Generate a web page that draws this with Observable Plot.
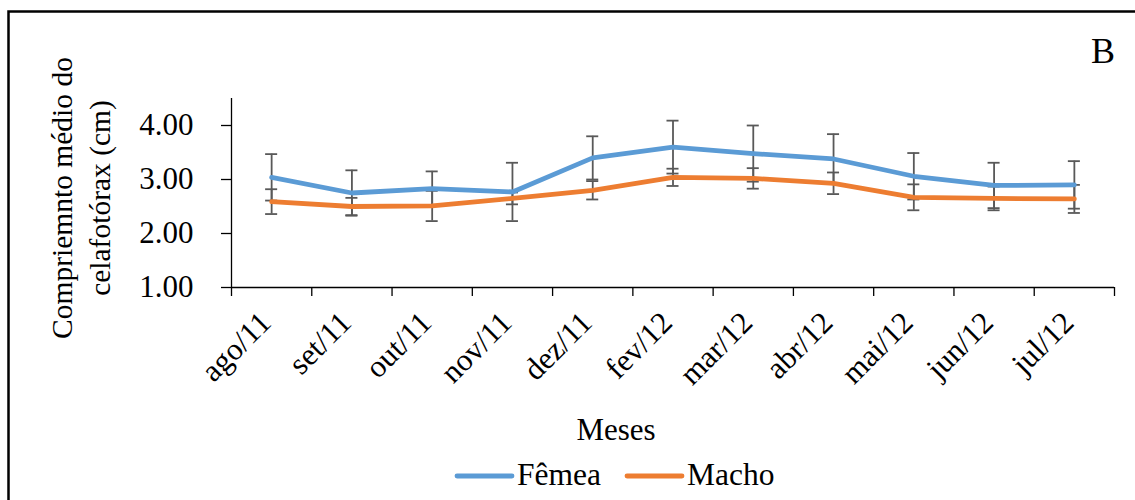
<!DOCTYPE html>
<html>
<head>
<meta charset="utf-8">
<script src="https://cdn.jsdelivr.net/npm/d3@7"></script>
<script src="https://cdn.jsdelivr.net/npm/@observablehq/plot@0.6"></script>
<style>
  html, body { margin: 0; padding: 0; background: #fff; }
  #chart svg { display: block; }
</style>
</head>
<body>
<div id="chart"></div>
<script>
const meses = ["ago/11","set/11","out/11","nov/11","dez/11","fev/12","mar/12","abr/12","mai/12","jun/12","jul/12"];
const series = ["Fêmea", "Macho"];
const colors = ["#5B9BD5", "#ED7D31"];
const femea    = [3.04, 2.75, 2.83, 2.77, 3.40, 3.60, 3.48, 3.38, 3.06, 2.89, 2.90];
const femeaErr = [0.43, 0.42, 0.32, 0.54, 0.40, 0.49, 0.52, 0.46, 0.43, 0.42, 0.44];
const macho    = [2.59, 2.50, 2.51, 2.65, 2.80, 3.04, 3.02, 2.93, 2.67, 2.65, 2.64];
const machoErr = [0.23, 0.16, 0.28, 0.11, 0.17, 0.16, 0.19, 0.20, 0.24, 0.22, 0.26];
const yTicks = [1, 2, 3, 4];
const yTitle = ["Compriemnto médio do", "celafotórax (cm)"];
const xTitle = "Meses";
const panelLabel = "B";

const FONT = "Liberation Serif, Times New Roman, serif";

const rows = [];
meses.forEach((m, i) => {
  rows.push({mes: m, x: i + 0.5, v: femea[i], e: femeaErr[i], serie: series[0]});
});
meses.forEach((m, i) => {
  rows.push({mes: m, x: i + 0.5, v: macho[i], e: machoErr[i], serie: series[1]});
});

const errColor = "#595959";
const cap = 0.075;

const chart = Plot.plot({
  width: 1135,
  height: 500,
  marginLeft: 231,
  marginRight: 21,
  marginTop: 98,
  marginBottom: 213,
  style: {fontFamily: FONT, fontSize: "30px", color: "#000", background: "#fff"},
  x: {type: "linear", domain: [0, meses.length], axis: null},
  y: {domain: [1, 4.5], axis: null},
  color: {domain: series, range: colors},
  marks: [
    Plot.axisY({ticks: yTicks, tickFormat: () => "", tickSize: 10, label: null, stroke: "#000", strokeWidth: 1.3}),
    Plot.text(yTicks, {x: 0, y: d => d, text: d3.format(".2f"), textAnchor: "end", dx: -38, fontSize: 31, fontFamily: FONT, fill: "#000"}),
    Plot.axisX({ticks: d3.range(meses.length + 1), tickFormat: () => "", tickSize: 9, label: null, stroke: "#000", strokeWidth: 1.3}),
    Plot.ruleX([0], {stroke: "#000", strokeWidth: 1.3}),
    Plot.ruleY([1], {stroke: "#000", strokeWidth: 1.3}),
    Plot.text(meses, {x: (d, i) => i + 0.5, frameAnchor: "bottom", rotate: -45, textAnchor: "end", lineAnchor: "bottom", dx: 1, dy: 37, fontSize: 31, fontFamily: FONT, fill: "#000"}),
    Plot.ruleX(rows, {x: "x", y1: d => d.v - d.e, y2: d => d.v + d.e, stroke: errColor, strokeWidth: 1.8}),
    Plot.ruleY(rows, {y: d => d.v + d.e, x1: d => d.x - cap, x2: d => d.x + cap, stroke: errColor, strokeWidth: 1.8}),
    Plot.ruleY(rows, {y: d => d.v - d.e, x1: d => d.x - cap, x2: d => d.x + cap, stroke: errColor, strokeWidth: 1.8}),
    Plot.line(rows, {x: "x", y: "v", z: "serie", stroke: "serie", strokeWidth: 4.8, strokeLinecap: "round", strokeLinejoin: "round"})
  ]
});

const svg = d3.select(chart);
// outer border
svg.append("rect")
  .attr("x", 8.5).attr("y", 11.5).attr("width", 1200).attr("height", 600)
  .attr("fill", "none").attr("stroke", "#000").attr("stroke-width", 2.5);
// panel label
svg.append("text").attr("x", 1103).attr("y", 63).attr("text-anchor", "middle")
  .attr("font-family", FONT).attr("font-size", 36).attr("fill", "#000").text(panelLabel);
// x title
svg.append("text").attr("x", 616).attr("y", 440).attr("text-anchor", "middle")
  .attr("font-family", FONT).attr("font-size", 31).attr("fill", "#000").text(xTitle);
// y title
yTitle.forEach((t, i) => {
  svg.append("text")
    .attr("transform", `translate(${72 + i * 38},198) rotate(-90)`)
    .attr("text-anchor", "middle")
    .attr("font-family", FONT).attr("font-size", 29.5).attr("fill", "#000").text(t);
});
// legend
const legX = [457, 627];
series.forEach((s, i) => {
  const g = svg.append("g");
  g.append("line").attr("x1", legX[i]).attr("x2", legX[i] + 55).attr("y1", 476).attr("y2", 476)
    .attr("stroke", colors[i]).attr("stroke-width", 4.8).attr("stroke-linecap", "round");
  g.append("text").attr("x", legX[i] + 60).attr("y", 485).attr("text-anchor", "start")
    .attr("font-family", FONT).attr("font-size", 31.5).attr("fill", "#000").text(s);
});

document.getElementById("chart").appendChild(chart);
</script>
</body>
</html>
